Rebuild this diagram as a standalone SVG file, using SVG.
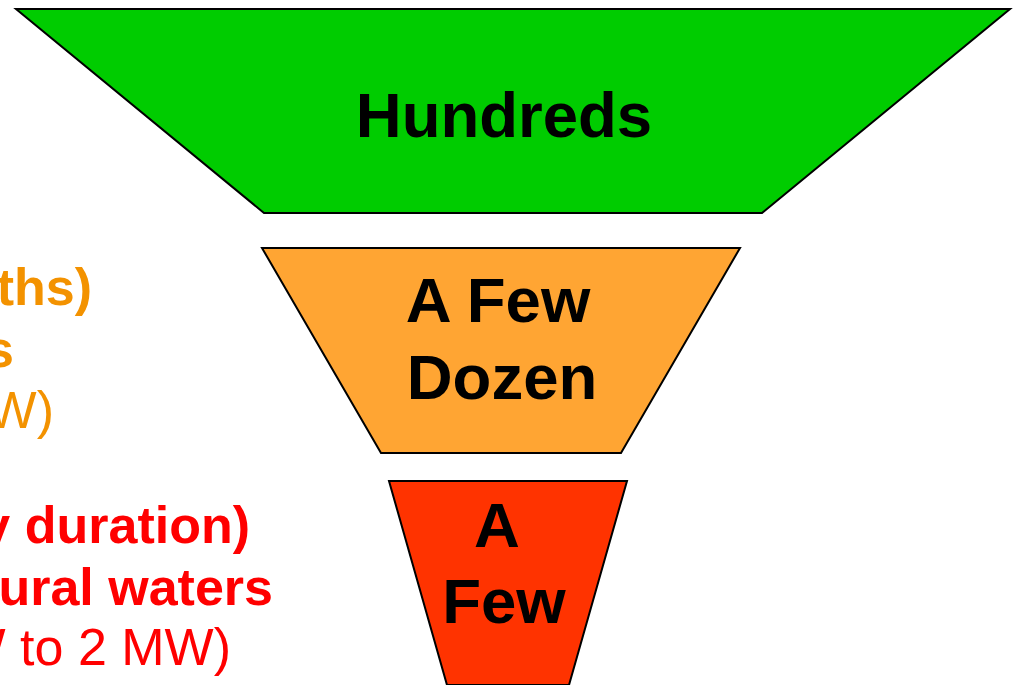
<svg xmlns="http://www.w3.org/2000/svg" width="1015" height="685" viewBox="0 0 1015 685">
<style>
.tier{stroke:#000;stroke-width:2;stroke-linejoin:miter}
.lbl{font-family:"Liberation Sans",Arial,sans-serif;font-weight:bold;font-size:63.5px;fill:#000;text-anchor:middle}
.side{font-family:"Liberation Sans",Arial,sans-serif;font-size:52px;text-anchor:end}
.b{font-weight:bold}
.or{fill:#F39200}
.rd{fill:#FF0000}
</style>
<rect width="1015" height="685" fill="#fff"/>
<g id="side-orange">
<text class="side b or" x="92" y="305">(months)</text>
<text class="side b or" x="14" y="367">Tanks</text>
<text class="side or" x="54" y="428">(kW)</text>
</g>
<g id="side-red">
<text class="side b rd" x="250" y="543">(any duration)</text>
<text class="side b rd" x="273" y="605">Natural waters</text>
<text class="side rd" x="231" y="665">(1 MW to 2 MW)</text>
</g>
<g id="tier-hundreds">
<polygon class="tier" points="16,9 1010,9 762,213 264,213" fill="#00CC00"/>
<text class="lbl" x="504" y="137">Hundreds</text>
</g>
<g id="tier-dozen">
<polygon class="tier" points="262,248 740,248 621,453 381,453" fill="#FFA533"/>
<text class="lbl" x="498" y="322">A Few</text>
<text class="lbl" x="502" y="399">Dozen</text>
</g>
<g id="tier-few">
<polygon class="tier" points="389,481 627,481 569,685 447,685" fill="#FF3300"/>
<text class="lbl" x="497" y="547">A</text>
<text class="lbl" x="504" y="623">Few</text>
</g>
<g id="connectors"></g>
</svg>
